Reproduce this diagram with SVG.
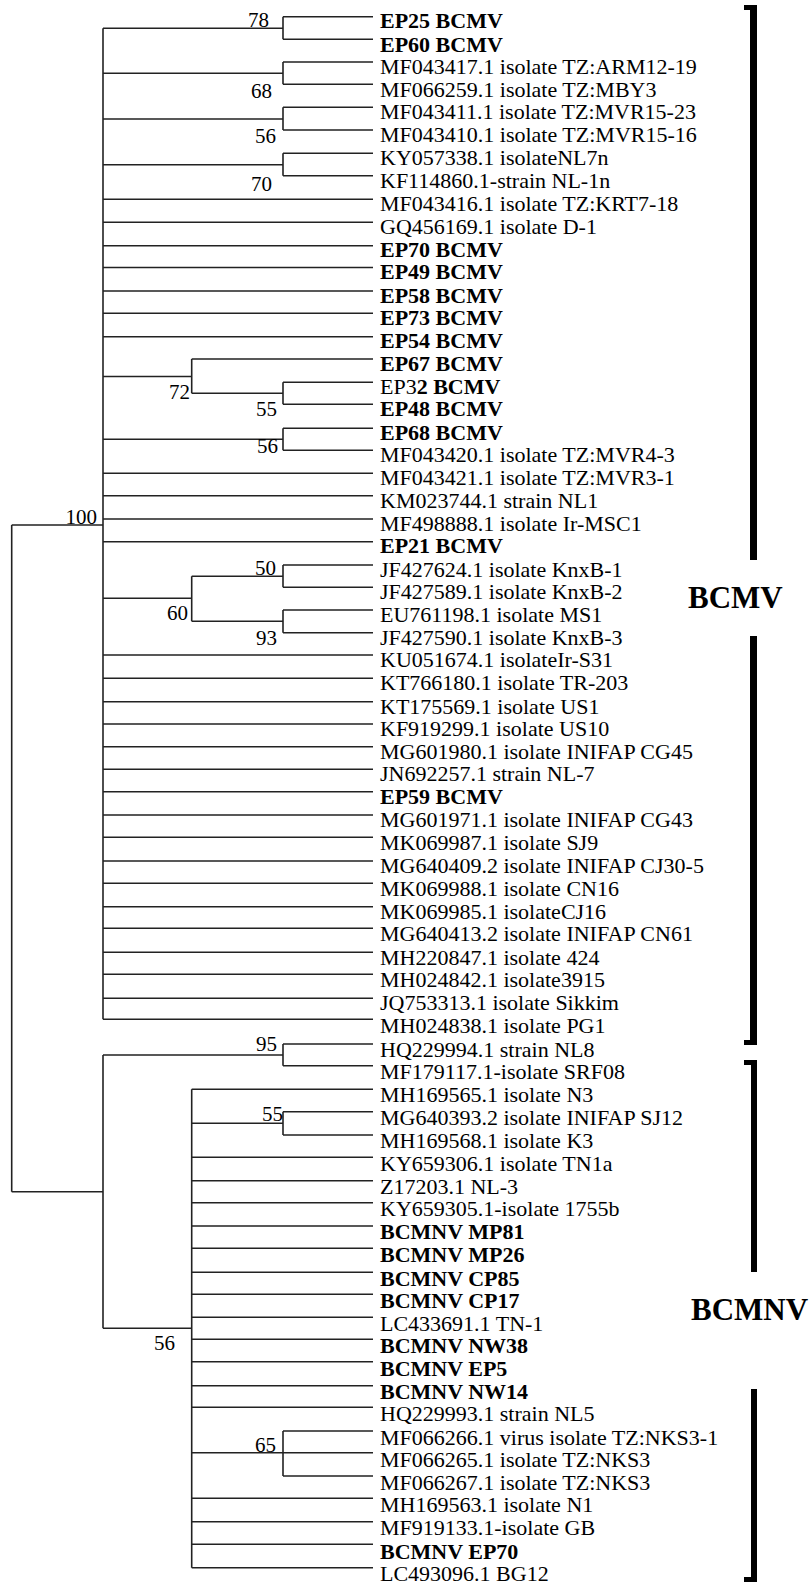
<svg xmlns="http://www.w3.org/2000/svg" width="811" height="1585" viewBox="0 0 811 1585">
<style>
text{font-family:"Liberation Serif","Times New Roman",serif;fill:#000}
.lf{font-size:22px}
.b{font-weight:bold}
.bs{font-size:21px;text-anchor:end}
.cl{font-size:31px;font-weight:bold}
.br{fill:#000}
</style>
<rect width="811" height="1585" fill="#fff"/>
<g id="connectors" fill="none" stroke="#222" stroke-width="1.6">
<path d="M11.7,525V1191.7M11.7,525H103M11.7,1191.7H103
M103,28.3V1019.3
M103,28.3H283M283,16.7V39.3M283,16.7H373M283,39.3H373
M103,73.3H283M283,62V84.3M283,62H373M283,84.3H373
M103,119H283M283,107.3V130M283,107.3H373M283,130H373
M103,164.7H283M283,153.3V175.7M283,153.3H373M283,175.7H373
M103,199.3H373M103,222.3H373M103,245.7H373M103,267.5H373M103,291H373M103,313.3H373M103,336.7H373
M103,376.5H191.7M191.7,359V393.3M191.7,359H373M191.7,393.3H283M283,382.3V404.3M283,382.3H373M283,404.3H373
M103,439.3H283M283,428.3V450.3M283,428.3H373M283,450.3H373
M103,473.3H373M103,495.7H373M103,519H373M103,541.7H373
M103,598.3H191.7M191.7,576.3V621.3M191.7,576.3H283M283,565V587.3M283,565H373M283,587.3H373M191.7,621.3H283M283,610V632.7M283,610H373M283,632.7H373
M103,655H373M103,678.3H373M103,701.7H373M103,724H373M103,746.7H373M103,769.3H373M103,791.7H373M103,815H373M103,837.3H373M103,861H373M103,883.3H373M103,906.7H373M103,928.3H373M103,952.3H373M103,974.3H373M103,998.3H373M103,1019.3H373
M103,1055V1328.3M103,1055H283M283,1044V1065.7M283,1044H373M283,1065.7H373
M103,1328.3H191.7M191.7,1089.3V1567.7
M191.7,1089.3H373
M191.7,1123.3H283M283,1111.7V1135M283,1111.7H373M283,1135H373
M191.7,1157.3H373M191.7,1180.7H373M191.7,1202.7H373M191.7,1226H373M191.7,1248.3H373M191.7,1272.3H373M191.7,1294.3H373M191.7,1317.3H373M191.7,1339.3H373M191.7,1361.7H373M191.7,1385.7H373M191.7,1407.3H373
M191.7,1452.7H283M283,1431V1476M283,1431H373M283,1452.7H373M283,1476H373
M191.7,1498.3H373M191.7,1521.7H373M191.7,1544.3H373M191.7,1567.7H373"/>
</g>
<g id="bootstrap">
<text class="bs" x="269" y="27">78</text>
<text class="bs" x="272" y="98">68</text>
<text class="bs" x="276" y="143">56</text>
<text class="bs" x="272" y="191">70</text>
<text class="bs" x="190" y="399">72</text>
<text class="bs" x="277" y="416">55</text>
<text class="bs" x="278" y="453">56</text>
<text class="bs" x="97" y="524">100</text>
<text class="bs" x="276" y="575">50</text>
<text class="bs" x="188" y="620">60</text>
<text class="bs" x="277" y="645">93</text>
<text class="bs" x="277" y="1051">95</text>
<text class="bs" x="283" y="1121">55</text>
<text class="bs" x="175" y="1350">56</text>
<text class="bs" x="276" y="1452">65</text>
</g>
<g id="leaves" class="lf">
<g id="n-EP25"><text class="b" x="380" y="28">EP25 BCMV</text></g>
<g id="n-EP60"><text class="b" x="380" y="52">EP60 BCMV</text></g>
<g id="n-MF043417"><text x="380" y="74">MF043417.1 isolate TZ:ARM12-19</text></g>
<g id="n-MF066259"><text x="380" y="97">MF066259.1 isolate TZ:MBY3</text></g>
<g id="n-MF043411"><text x="380" y="119">MF043411.1 isolate TZ:MVR15-23</text></g>
<g id="n-MF043410"><text x="380" y="142">MF043410.1 isolate TZ:MVR15-16</text></g>
<g id="n-KY057338"><text x="380" y="165">KY057338.1 isolateNL7n</text></g>
<g id="n-KF114860"><text x="380" y="188">KF114860.1-strain NL-1n</text></g>
<g id="n-MF043416"><text x="380" y="211">MF043416.1 isolate TZ:KRT7-18</text></g>
<g id="n-GQ456169"><text x="380" y="234">GQ456169.1 isolate D-1</text></g>
<g id="n-EP70"><text class="b" x="380" y="257">EP70 BCMV</text></g>
<g id="n-EP49"><text class="b" x="380" y="279">EP49 BCMV</text></g>
<g id="n-EP58"><text class="b" x="380" y="303">EP58 BCMV</text></g>
<g id="n-EP73"><text class="b" x="380" y="325">EP73 BCMV</text></g>
<g id="n-EP54"><text class="b" x="380" y="348">EP54 BCMV</text></g>
<g id="n-EP67"><text class="b" x="380" y="371">EP67 BCMV</text></g>
<g id="n-EP32"><text x="380" y="394">EP3<tspan class="b">2 BCMV</tspan></text></g>
<g id="n-EP48"><text class="b" x="380" y="416">EP48 BCMV</text></g>
<g id="n-EP68"><text class="b" x="380" y="440">EP68 BCMV</text></g>
<g id="n-MF043420"><text x="380" y="462">MF043420.1 isolate TZ:MVR4-3</text></g>
<g id="n-MF043421"><text x="380" y="485">MF043421.1 isolate TZ:MVR3-1</text></g>
<g id="n-KM023744"><text x="380" y="508">KM023744.1 strain NL1</text></g>
<g id="n-MF498888"><text x="380" y="531">MF498888.1 isolate Ir-MSC1</text></g>
<g id="n-EP21"><text class="b" x="380" y="553">EP21 BCMV</text></g>
<g id="n-JF427624"><text x="380" y="577">JF427624.1 isolate KnxB-1</text></g>
<g id="n-JF427589"><text x="380" y="599">JF427589.1 isolate KnxB-2</text></g>
<g id="n-EU761198"><text x="380" y="622">EU761198.1 isolate MS1</text></g>
<g id="n-JF427590"><text x="380" y="645">JF427590.1 isolate KnxB-3</text></g>
<g id="n-KU051674"><text x="380" y="667">KU051674.1 isolateIr-S31</text></g>
<g id="n-KT766180"><text x="380" y="690">KT766180.1 isolate TR-203</text></g>
<g id="n-KT175569"><text x="380" y="714">KT175569.1 isolate US1</text></g>
<g id="n-KF919299"><text x="380" y="736">KF919299.1 isolate US10</text></g>
<g id="n-MG601980"><text x="380" y="759">MG601980.1 isolate INIFAP CG45</text></g>
<g id="n-JN692257"><text x="380" y="781">JN692257.1 strain NL-7</text></g>
<g id="n-EP59"><text class="b" x="380" y="804">EP59 BCMV</text></g>
<g id="n-MG601971"><text x="380" y="827">MG601971.1 isolate INIFAP CG43</text></g>
<g id="n-MK069987"><text x="380" y="850">MK069987.1 isolate SJ9</text></g>
<g id="n-MG640409"><text x="380" y="873">MG640409.2 isolate INIFAP CJ30-5</text></g>
<g id="n-MK069988"><text x="380" y="896">MK069988.1 isolate CN16</text></g>
<g id="n-MK069985"><text x="380" y="919">MK069985.1 isolateCJ16</text></g>
<g id="n-MG640413"><text x="380" y="941">MG640413.2 isolate INIFAP CN61</text></g>
<g id="n-MH220847"><text x="380" y="965">MH220847.1 isolate 424</text></g>
<g id="n-MH024842"><text x="380" y="987">MH024842.1 isolate3915</text></g>
<g id="n-JQ753313"><text x="380" y="1010">JQ753313.1 isolate Sikkim</text></g>
<g id="n-MH024838"><text x="380" y="1033">MH024838.1 isolate PG1</text></g>
<g id="n-HQ229994"><text x="380" y="1057">HQ229994.1 strain NL8</text></g>
<g id="n-MF179117"><text x="380" y="1079">MF179117.1-isolate SRF08</text></g>
<g id="n-MH169565"><text x="380" y="1102">MH169565.1 isolate N3</text></g>
<g id="n-MG640393"><text x="380" y="1125">MG640393.2 isolate INIFAP SJ12</text></g>
<g id="n-MH169568"><text x="380" y="1148">MH169568.1 isolate K3</text></g>
<g id="n-KY659306"><text x="380" y="1171">KY659306.1 isolate TN1a</text></g>
<g id="n-Z17203"><text x="380" y="1194">Z17203.1 NL-3</text></g>
<g id="n-KY659305"><text x="380" y="1216">KY659305.1-isolate 1755b</text></g>
<g id="n-MP81"><text class="b" x="380" y="1239">BCMNV MP81</text></g>
<g id="n-MP26"><text class="b" x="380" y="1262">BCMNV MP26</text></g>
<g id="n-CP85"><text class="b" x="380" y="1286">BCMNV CP85</text></g>
<g id="n-CP17"><text class="b" x="380" y="1308">BCMNV CP17</text></g>
<g id="n-LC433691"><text x="380" y="1331">LC433691.1 TN-1</text></g>
<g id="n-NW38"><text class="b" x="380" y="1353">BCMNV NW38</text></g>
<g id="n-EP5"><text class="b" x="380" y="1376">BCMNV EP5</text></g>
<g id="n-NW14"><text class="b" x="380" y="1399">BCMNV NW14</text></g>
<g id="n-HQ229993"><text x="380" y="1421">HQ229993.1 strain NL5</text></g>
<g id="n-MF066266"><text x="380" y="1445">MF066266.1 virus isolate  TZ:NKS3-1</text></g>
<g id="n-MF066265"><text x="380" y="1467">MF066265.1 isolate TZ:NKS3</text></g>
<g id="n-MF066267"><text x="380" y="1490">MF066267.1 isolate TZ:NKS3</text></g>
<g id="n-MH169563"><text x="380" y="1512">MH169563.1 isolate N1</text></g>
<g id="n-MF919133"><text x="380" y="1535">MF919133.1-isolate GB</text></g>
<g id="n-BCMNV-EP70"><text class="b" x="380" y="1559">BCMNV EP70</text></g>
<g id="n-LC493096"><text x="380" y="1581">LC493096.1 BG12</text></g>
</g>
<g id="brackets" class="br">
<g id="bracket-1"><rect x="750" y="5" width="7" height="555"/><rect x="744" y="5" width="13" height="5"/></g>
<g id="bracket-2"><rect x="750" y="636" width="7" height="409"/><rect x="744" y="1040" width="13" height="5"/></g>
<g id="bracket-3"><rect x="751" y="1060" width="6" height="212"/><rect x="744" y="1060" width="13" height="5"/></g>
<g id="bracket-4"><rect x="751" y="1389" width="6" height="193"/><rect x="744" y="1577" width="13" height="5"/></g>
</g>
<g id="clade-labels">
<text class="cl" x="688" y="608">BCMV</text>
<text class="cl" x="691" y="1320">BCMNV</text>
</g>
</svg>
